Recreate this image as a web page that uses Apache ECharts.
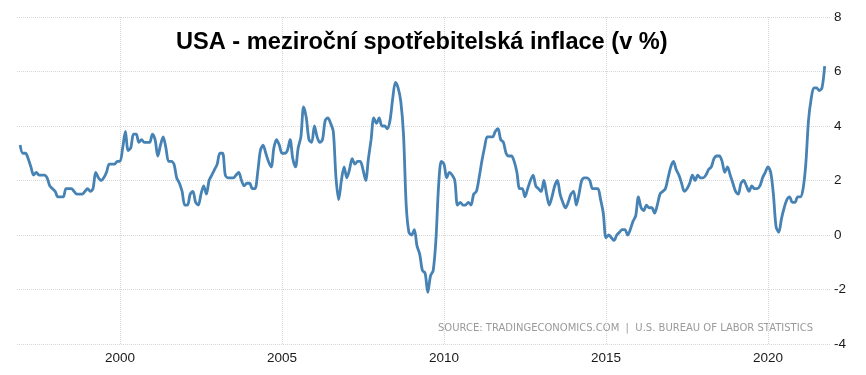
<!DOCTYPE html>
<html><head><meta charset="utf-8">
<script src="https://cdn.jsdelivr.net/npm/echarts@6/dist/echarts.min.js"></script>
<style>html,body{margin:0;padding:0;background:#fff}#c{width:866px;height:375px}</style>
</head><body><div id="c"></div>
<script>
// Monthly US CPI year-over-year change (%), Dec 1996 .. Oct 2021
const startYear = 1996, startMonth = 12;
const inflation = [
  3.3,
  3.0,3.0,2.8,2.5,2.2,2.3,2.2,2.2,2.2,2.1,1.8,1.7,
  1.6,1.4,1.4,1.4,1.7,1.7,1.7,1.6,1.5,1.5,1.5,1.6,
  1.7,1.6,1.7,2.3,2.1,2.0,2.1,2.3,2.6,2.6,2.6,2.7,
  2.7,3.2,3.8,3.1,3.2,3.7,3.7,3.4,3.5,3.4,3.4,3.4,
  3.7,3.5,2.9,3.3,3.6,3.2,2.7,2.7,2.6,2.1,1.9,1.6,
  1.1,1.1,1.5,1.6,1.2,1.1,1.5,1.8,1.5,2.0,2.2,2.4,
  2.6,3.0,3.0,2.2,2.1,2.1,2.1,2.2,2.3,2.0,1.8,1.9,
  1.9,1.7,1.7,2.3,3.1,3.3,3.0,2.7,2.5,3.2,3.5,3.3,
  3.0,3.0,3.1,3.5,2.8,2.5,3.2,3.6,4.7,4.3,3.5,3.4,
  4.0,3.6,3.4,3.5,4.2,4.3,4.1,3.8,2.1,1.3,2.0,2.5,
  2.1,2.4,2.8,2.6,2.7,2.7,2.4,2.0,2.8,3.5,4.3,4.1,
  4.3,4.0,4.0,3.9,4.2,5.0,5.6,5.4,4.9,3.7,1.1,0.1,
  0.0,0.2,-0.4,-0.7,-1.3,-1.4,-2.1,-1.5,-1.3,-0.2,1.8,2.7,
  2.6,2.1,2.3,2.2,2.0,1.1,1.2,1.1,1.1,1.2,1.1,1.5,
  1.6,2.1,2.7,3.2,3.6,3.6,3.6,3.8,3.9,3.5,3.4,3.0,
  2.9,2.9,2.7,2.3,1.7,1.7,1.4,1.7,2.0,2.2,1.8,1.7,
  1.6,2.0,1.5,1.1,1.4,1.8,2.0,1.5,1.2,1.0,1.2,1.5,
  1.6,1.1,1.5,2.0,2.1,2.1,2.0,1.7,1.7,1.7,1.3,0.8,
  -0.1,0.0,-0.1,-0.2,0.0,0.1,0.2,0.2,0.0,0.2,0.5,0.7,
  1.4,1.0,0.9,1.1,1.0,1.0,0.8,1.1,1.5,1.6,1.7,2.1,
  2.5,2.7,2.4,2.2,1.9,1.6,1.7,1.9,2.2,2.0,2.2,2.1,
  2.1,2.2,2.4,2.5,2.8,2.9,2.9,2.7,2.3,2.5,2.2,1.9,
  1.6,1.5,1.9,2.0,1.8,1.6,1.8,1.7,1.7,1.8,2.1,2.3,
  2.5,2.3,1.5,0.3,0.1,0.6,1.0,1.3,1.4,1.2,1.2,1.4,
  1.4,1.7,2.6,4.2,5.0,5.4,5.4,5.3,5.4,6.2
];
const yearTicks = [2000, 2005, 2010, 2015, 2020];
const yTicks = [-4, -2, 0, 2, 4, 6, 8];
const titleText = 'USA - meziroční spotřebitelská inflace (v %)';
const sourceText = 'SOURCE: TRADINGECONOMICS.COM  |  U.S. BUREAU OF LABOR STATISTICS';

const seriesData = inflation.map((v, i) => {
  const m = startMonth - 1 + i;
  return [startYear + Math.floor(m / 12) + (m % 12) / 12, v];
});

const chart = echarts.init(document.getElementById('c'), null, {renderer: 'canvas'});
chart.setOption({
  animation: false,
  backgroundColor: '#fff',
  title: {
    text: titleText, left: 171, top: 25,
    textStyle: {fontFamily: 'Liberation Sans', fontWeight: 'bold', fontSize: 23.6, color: '#000'}
  },
  graphic: [{
    type: 'text', right: 53, top: 323,
    style: {text: sourceText, font: '10px "DejaVu Sans"', fill: '#9a9a9a'}
  }],
  grid: {left: 17, right: 36, top: 17, bottom: 31, containLabel: false},
  xAxis: {
    type: 'value', min: 1996.821, max: 2021.914,
    axisLine: {show: false},
    axisTick: {show: true, length: 4, customValues: yearTicks, lineStyle: {color: '#ddd', type: 'dotted'}},
    axisLabel: {customValues: yearTicks, formatter: v => String(Math.round(v)), color: '#1a1a1a', fontFamily: 'Liberation Sans', fontSize: 13.5, margin: 7},
    splitLine: {show: true, lineStyle: {color: '#d6d6d6', type: 'dotted', width: 1}}
  },
  yAxis: {
    type: 'value', position: 'right', min: -4, max: 8, interval: 2,
    axisLine: {show: false}, axisTick: {show: false},
    axisLabel: {color: '#1a1a1a', fontFamily: 'Liberation Sans', fontSize: 13.5, margin: 4},
    splitLine: {show: true, lineStyle: {color: '#d6d6d6', type: 'dotted', width: 1}}
  },
  series: [{
    type: 'line', data: seriesData, showSymbol: false, smooth: 0.3,
    lineStyle: {color: '#4682b4', width: 2.8}, itemStyle: {color: '#4682b4'}
  }]
});
</script></body></html>
